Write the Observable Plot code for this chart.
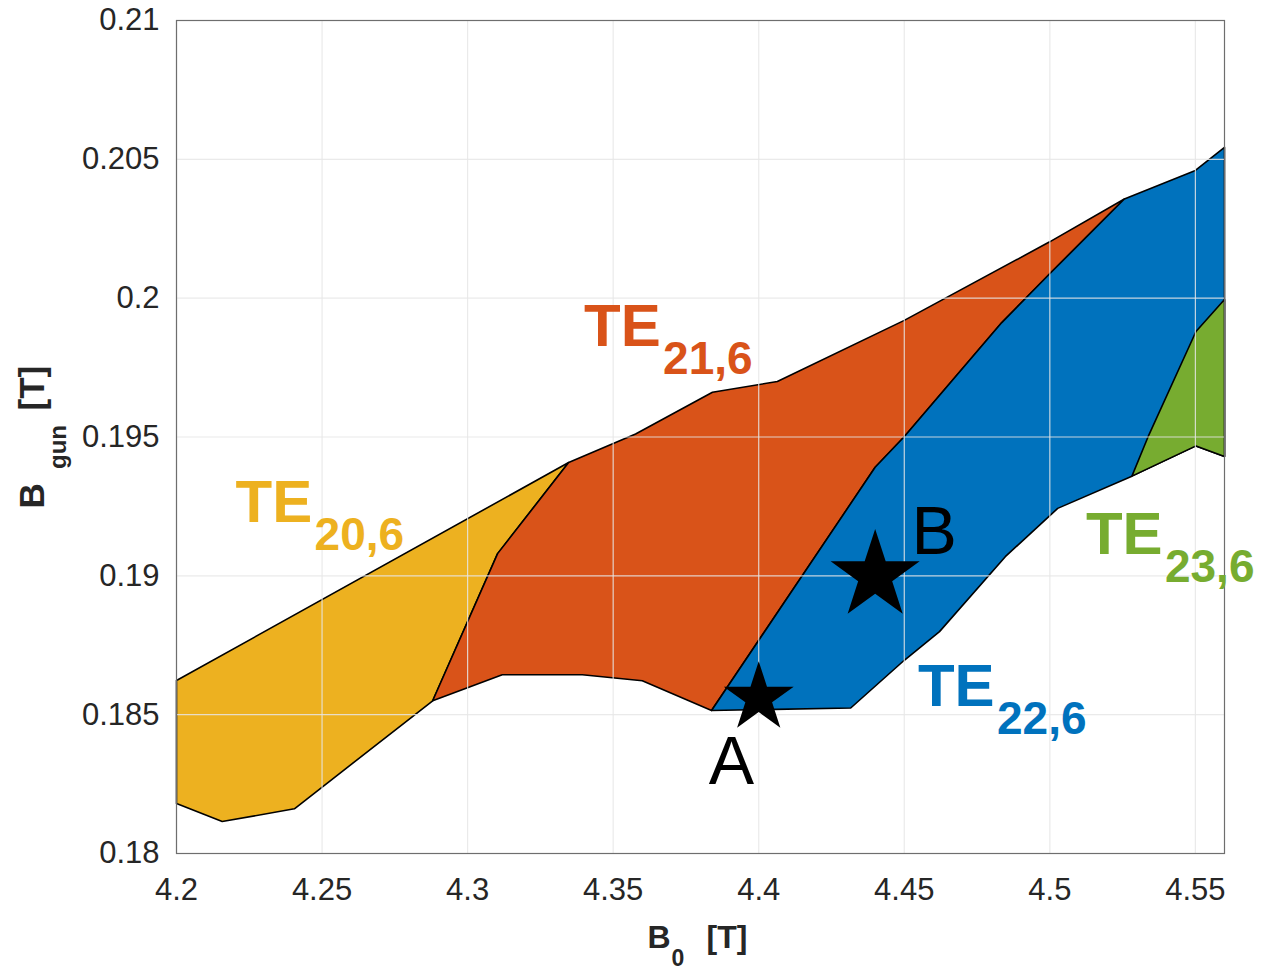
<!DOCTYPE html>
<html>
<head>
<meta charset="utf-8">
<script src="https://cdn.jsdelivr.net/npm/d3@7"></script>
<script src="https://cdn.jsdelivr.net/npm/@observablehq/plot@0.6"></script>
<style>
  html, body { margin: 0; padding: 0; background: #ffffff; }
  #chart { width: 1277px; height: 971px; }
</style>
</head>
<body>
<div id="chart"></div>
<script>
// ---- Data ----
const xTicks = [4.2, 4.25, 4.3, 4.35, 4.4, 4.45, 4.5, 4.55];
const xTickLabels = ["4.2", "4.25", "4.3", "4.35", "4.4", "4.45", "4.5", "4.55"];
const yTicks = [0.18, 0.185, 0.19, 0.195, 0.2, 0.205, 0.21];
const yTickLabels = ["0.18", "0.185", "0.19", "0.195", "0.2", "0.205", "0.21"];

// TE20,6 region
const te20B0   = [4.2, 4.3347, 4.3103, 4.288, 4.2405, 4.2157, 4.2];
const te20Bgun = [0.18623, 0.19408, 0.1908, 0.1855, 0.18161, 0.18115, 0.1818];
// TE21,6 region
const te21B0   = [4.288, 4.3103, 4.3347, 4.3577, 4.3841, 4.4064, 4.45, 4.4998, 4.5256, 4.4998, 4.4835, 4.4499, 4.44, 4.3838, 4.36, 4.3394, 4.3119];
const te21Bgun = [0.1855, 0.1908, 0.19408, 0.19511, 0.19661, 0.197, 0.1992, 0.20202, 0.20357, 0.20086, 0.19912, 0.195, 0.19391, 0.18515, 0.18622, 0.18644, 0.18644];
// TE22,6 region
const te22B0   = [4.3838, 4.4316, 4.4499, 4.4621, 4.4847, 4.5027, 4.5282, 4.5502, 4.56, 4.56, 4.55, 4.5256, 4.4998, 4.4835, 4.4499, 4.44];
const te22Bgun = [0.18515, 0.18524, 0.18695, 0.18799, 0.19069, 0.19243, 0.19359, 0.19468, 0.1943, 0.20543, 0.2046, 0.20357, 0.20086, 0.19912, 0.195, 0.19391];
// TE23,6 region
const te23B0   = [4.5282, 4.534, 4.5502, 4.56, 4.56, 4.5502];
const te23Bgun = [0.19359, 0.19507, 0.1988, 0.19995, 0.1943, 0.19468];

// Mode labels
const modeSubs   = ["20,6", "21,6", "22,6", "23,6"];
const modeLabelB0   = [4.2203, 4.34, 4.4547, 4.5124];
const modeLabelBgun = [0.19193, 0.19829, 0.18532, 0.19079];
const modeColors = ["#EDB120", "#D95319", "#0072BD", "#77AC30"];

// Operating points
const pointNames = ["A", "B"];
const pointB0    = [4.40, 4.44];
const pointBgun  = [0.1856, 0.19];
const pointLabelB0   = [4.3906, 4.4525];
const pointLabelBgun = [0.18251, 0.1908];

// ---- Build tables ----
const poly = (xs, ys) => xs.map((x, i) => ({x, y: ys[i]}));
const regions = [
  poly(te20B0, te20Bgun),
  poly(te21B0, te21Bgun),
  poly(te22B0, te22Bgun),
  poly(te23B0, te23Bgun)
];
const modeLabels = modeSubs.map((s, i) => ({x: modeLabelB0[i], y: modeLabelBgun[i], sub: s, color: modeColors[i]}));
const points = pointNames.map((n, i) => ({name: n, x: pointB0[i], y: pointBgun[i], lx: pointLabelB0[i], ly: pointLabelBgun[i]}));

const FONT = "'Liberation Sans', Arial, Helvetica, sans-serif";
const AX = "#262626";

const marks = [];
regions.forEach((r, i) => {
  marks.push(Plot.line(r, {x: "x", y: "y", curve: "linear-closed", fill: modeColors[i], stroke: "black", strokeWidth: 1.6, strokeLinejoin: "round"}));
});
marks.push(
  Plot.gridX(xTicks, {stroke: "#e6e6e6", strokeOpacity: 0.85, strokeWidth: 1.2}),
  Plot.gridY(yTicks, {stroke: "#e6e6e6", strokeOpacity: 0.85, strokeWidth: 1.2}),
  Plot.frame({stroke: "#6e6e6e", strokeWidth: 1.2}),
  Plot.axisX(xTicks, {tickSize: 0, tickPadding: 24, fontSize: 31, fill: AX, tickFormat: d => xTickLabels[xTicks.indexOf(d)], label: null}),
  Plot.axisY(yTicks, {tickSize: 0, tickPadding: 17, fontSize: 31, fill: AX, tickFormat: d => yTickLabels[yTicks.indexOf(d)], label: null}),
  // stars
  Plot.dot([points[0]], {x: "x", y: "y", symbol: "star", r: 22, fill: "black", stroke: "none"}),
  Plot.dot([points[1]], {x: "x", y: "y", symbol: "star", r: 28, fill: "black", stroke: "none"}),
  Plot.text([points[0]], {x: "lx", y: "ly", text: "name", fontSize: 68, fill: "black", textAnchor: "middle", lineAnchor: "bottom", fontFamily: FONT}),
  Plot.text([points[1]], {x: "lx", y: "ly", text: "name", fontSize: 68, fill: "black", textAnchor: "start", lineAnchor: "bottom", fontFamily: FONT}),
  // mode labels
  Plot.text(modeLabels, {x: "x", y: "y", text: d => "TE", fill: "color", fontSize: 60, fontWeight: "bold", textAnchor: "start", lineAnchor: "bottom", fontFamily: FONT}),
  Plot.text(modeLabels, {x: "x", y: "y", text: "sub", fill: "color", fontSize: 46, fontWeight: "bold", textAnchor: "start", lineAnchor: "bottom", dx: 79, dy: 28, fontFamily: FONT}),
  // x axis label: B_0 [T]
  Plot.text(["B"], {frameAnchor: "bottom", text: d => d, dx: -53, dy: 94, fontSize: 32, fontWeight: "bold", fill: AX, textAnchor: "start", lineAnchor: "bottom", fontFamily: FONT}),
  Plot.text(["0"], {frameAnchor: "bottom", text: d => d, dx: -29, dy: 112, fontSize: 23, fontWeight: "bold", fill: AX, textAnchor: "start", lineAnchor: "bottom", fontFamily: FONT}),
  Plot.text(["[T]"], {frameAnchor: "bottom", text: d => d, dx: 6, dy: 94, fontSize: 32, fontWeight: "bold", fill: AX, textAnchor: "start", lineAnchor: "bottom", fontFamily: FONT}),
  // y axis label: B_gun [T]
  Plot.text(["B"], {frameAnchor: "left", text: d => d, rotate: -90, dx: -133, dy: 71.5, fontSize: 35, fontWeight: "bold", fill: AX, textAnchor: "start", lineAnchor: "bottom", fontFamily: FONT}),
  Plot.text(["gun"], {frameAnchor: "left", text: d => d, rotate: -90, dx: -111, dy: 32, fontSize: 24, fontWeight: "bold", fill: AX, textAnchor: "start", lineAnchor: "bottom", fontFamily: FONT}),
  Plot.text(["[T]"], {frameAnchor: "left", text: d => d, rotate: -90, dx: -133, dy: -26.5, fontSize: 35, fontWeight: "bold", fill: AX, textAnchor: "start", lineAnchor: "bottom", fontFamily: FONT})
);

const chart = Plot.plot({
  width: 1277,
  height: 971,
  marginLeft: 176,
  marginRight: 53,
  marginTop: 20,
  marginBottom: 118,
  x: {domain: [4.2, 4.56], label: null},
  y: {domain: [0.18, 0.21], label: null},
  style: {fontFamily: FONT, fontSize: "31px", color: AX, background: "white"},
  marks
});
document.getElementById("chart").appendChild(chart);
</script>
</body>
</html>
